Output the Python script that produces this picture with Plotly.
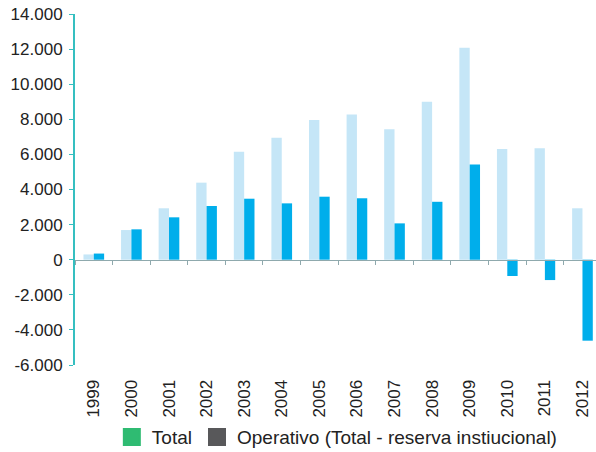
import plotly.graph_objects as go

years = ["1999", "2000", "2001", "2002", "2003", "2004", "2005", "2006",
         "2007", "2008", "2009", "2010", "2011", "2012"]
total = [300, 1690, 2930, 4390, 6150, 6950, 7960, 8280, 7430, 9000, 12080, 6310, 6350, 2930]
operativo = [350, 1730, 2415, 3060, 3475, 3210, 3590, 3500, 2070, 3300, 5430, -930, -1160, -4615]
y_ticks = [-6000, -4000, -2000, 0, 2000, 4000, 6000, 8000, 10000, 12000, 14000]
y_ticktext = [f"{v:,}".replace(",", ".") for v in y_ticks]
legend_names = ["Total", "Operativo (Total - reserva instiucional)"]

LIGHT = "#c5e6f7"
DARK = "#00aeeb"
TEAL = "#35bfc0"
GREEN = "#2fbb72"
GRAY = "#58585a"
FONT = "Liberation Sans, Arial, sans-serif"

fig = go.Figure()
fig.add_trace(go.Bar(x=years, y=total, marker=dict(color=LIGHT, line=dict(width=0)),
                     showlegend=False, name=legend_names[0]))
fig.add_trace(go.Bar(x=years, y=operativo, marker=dict(color=DARK, line=dict(width=0)),
                     showlegend=False, name=legend_names[1]))
# helper trace to carry the zero-line axis with boundary ticks
fig.add_trace(go.Scatter(x=years, y=[None] * len(years), xaxis="x2", showlegend=False,
                         hoverinfo="skip", mode="markers"))
# legend entries
fig.add_trace(go.Scatter(x=[None], y=[None], mode="markers", name=legend_names[0],
                         marker=dict(symbol="square", size=16, color=GREEN,
                                     line=dict(color=GREEN, width=2))))
fig.add_trace(go.Scatter(x=[None], y=[None], mode="markers", name=legend_names[1],
                         marker=dict(symbol="square", size=16, color=GRAY,
                                     line=dict(color=GRAY, width=2))))

xrange = [-0.5, 13.36]
fig.update_layout(
    width=596, height=452,
    margin=dict(l=75, r=0, t=14, b=87),
    paper_bgcolor="white", plot_bgcolor="white",
    barmode="group", bargap=0.45, bargroupgap=0.0,
    font=dict(family=FONT, size=17, color="#222222"),
    xaxis=dict(type="category", range=xrange, showgrid=False, zeroline=False,
               showline=False, ticks="outside", ticklen=7, tickcolor="rgba(0,0,0,0)",
               tickangle=-90, tickfont=dict(size=17, color="#222222"), automargin=False),
    xaxis2=dict(type="category", overlaying="x", anchor="free", position=0.3,
                range=xrange, showline=True, linecolor="#8fa9ad", linewidth=1,
                ticks="outside", tickson="boundaries", ticklen=4, tickcolor="#8fa9ad",
                showticklabels=False, showgrid=False, zeroline=False),
    yaxis=dict(range=[-6000, 14000], tickvals=y_ticks, ticktext=y_ticktext,
               showgrid=False, zeroline=False, showline=True, linecolor=TEAL, linewidth=2,
               ticks="outside", ticklen=4, tickcolor=TEAL, tickwidth=1,
               tickfont=dict(size=17, color="#222222"), ticklabelstandoff=3,
               automargin=False),
    legend=dict(orientation="h", xref="container", yref="container",
                x=0.566, y=0.033, xanchor="center", yanchor="middle",
                font=dict(size=19, color="#222222"), itemsizing="trace"),
)

fig.write_html("out.html", config={"displayModeBar": False},
               post_script="document.body.style.margin='0';document.body.style.overflow='hidden';")
